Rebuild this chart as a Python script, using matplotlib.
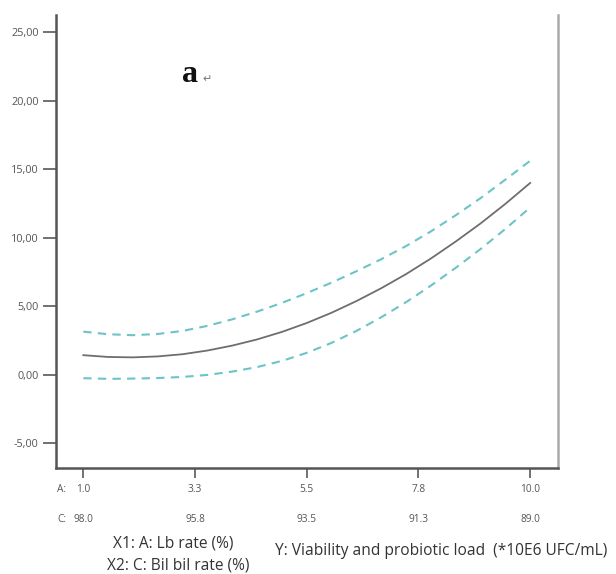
import matplotlib
matplotlib.use("Agg")
import matplotlib.pyplot as plt
import matplotlib.transforms as mtransforms

# valeurs (A: Lb rate)
x_a = [1.0, 1.5, 2.0, 2.5, 3.0, 3.5, 4.0, 4.5, 5.0, 5.5,
       6.0, 6.5, 7.0, 7.5, 8.0, 8.5, 9.0, 9.5, 10.0]
y_pred = [1.42, 1.29, 1.26, 1.33, 1.49, 1.76, 2.12, 2.57, 3.12, 3.77,
          4.52, 5.37, 6.31, 7.34, 8.48, 9.72, 11.04, 12.47, 14.0]
y_upper = [3.14, 2.95, 2.88, 2.97, 3.19, 3.56, 4.04, 4.60, 5.24, 5.95,
           6.72, 7.55, 8.43, 9.39, 10.46, 11.64, 12.89, 14.24, 15.62]
y_lower = [-0.26, -0.31, -0.29, -0.25, -0.17, -0.02, 0.22, 0.55, 1.00, 1.59,
           2.32, 3.19, 4.19, 5.29, 6.50, 7.80, 9.17, 10.64, 12.21]

xticks = [1.0, 3.25, 5.5, 7.75, 10.0]
a_labels = ["1.0", "3.3", "5.5", "7.8", "10.0"]
c_labels = ["98.0", "95.8", "93.5", "91.3", "89.0"]
yticks = [-5, 0, 5, 10, 15, 20, 25]
ytick_labels = ["-5,00", "0,00", "5,00", "10,00", "15,00", "20,00", "25,00"]

plt.rcParams["font.family"] = ["Open Sans", "DejaVu Sans"]

fig = plt.figure(figsize=(6.16, 5.74), dpi=100)
ax = fig.add_axes([0.0909, 0.1847, 0.8149, 0.7892])

ax.plot(x_a, y_pred, color="#6e6e6e", lw=1.3)
ax.plot(x_a, y_upper, color="#6cc4c8", lw=1.5, ls=(0, (4, 3)))
ax.plot(x_a, y_lower, color="#6cc4c8", lw=1.5, ls=(0, (4, 3)))

ax.set_xlim(0.45, 10.56)
ax.set_ylim(-6.82, 26.27)

ax.spines["top"].set_visible(False)
ax.spines["left"].set_color("#555555")
ax.spines["bottom"].set_color("#555555")
ax.spines["right"].set_color("#aaaaaa")
for s in ["left", "bottom", "right"]:
    ax.spines[s].set_linewidth(1.8)

ax.set_yticks(yticks)
ax.set_yticklabels(ytick_labels, fontsize=7.8, color="#555555")
ax.tick_params(axis="y", direction="out", length=9.5, width=1.3,
               color="#666666", pad=3)
ax.set_xticks(xticks)
ax.set_xticklabels([])
ax.tick_params(axis="x", direction="out", length=7, width=1.3, color="#666666")

trans = mtransforms.blended_transform_factory(ax.transData, fig.transFigure)
for xt, la, lc in zip(xticks, a_labels, c_labels):
    ax.text(xt, 1 - 490 / 574, la, transform=trans, ha="center", va="center",
            fontsize=7.3, color="#555555")
    ax.text(xt, 1 - 519 / 574, lc, transform=trans, ha="center", va="center",
            fontsize=7.3, color="#555555")
fig.text(57 / 616, 1 - 490 / 574, "A:", ha="left", va="center", fontsize=7.3, color="#555555")
fig.text(57 / 616, 1 - 519 / 574, "C:", ha="left", va="center", fontsize=7.3, color="#555555")

fig.text(173 / 616, 1 - 543 / 574, "X1: A: Lb rate (%)", ha="center", va="center",
         fontsize=11.2, color="#333333")
fig.text(178 / 616, 1 - 566 / 574, "X2: C: Bil bil rate (%)", ha="center", va="center",
         fontsize=11.2, color="#333333")
fig.text(275 / 616, 1 - 551 / 574, "Y: Viability and probiotic load  (*10E6 UFC/mL)",
         ha="left", va="center", fontsize=11.2, color="#333333")

fig.text(182 / 616, 1 - 75 / 574, "a", ha="left", va="center", fontsize=23,
         fontweight="bold", family="Liberation Serif", color="#111111")
fig.text(202 / 616, 1 - 79 / 574, "\u21b5", ha="left", va="center", fontsize=8,
         family="DejaVu Sans", color="#777777")

fig.savefig("out.png", dpi=100)
